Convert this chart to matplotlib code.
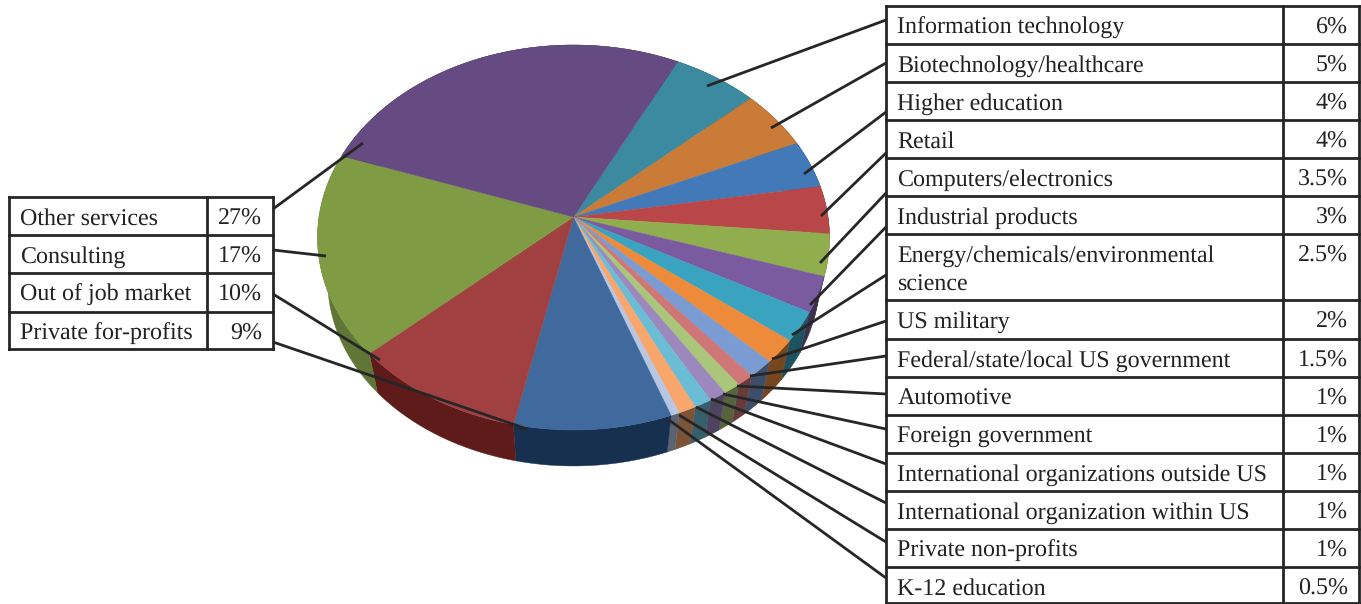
import numpy as np
import matplotlib
matplotlib.use("Agg")
import matplotlib.pyplot as plt
from matplotlib.colors import to_rgb

plt.rcParams['font.family'] = ['Liberation Serif', 'DejaVu Serif']
plt.rcParams['text.hinting'] = 'none'
plt.rcParams['text.hinting_factor'] = 1

# --- data -----------------------------------------------------------------
right_labels = ["Information technology", "Biotechnology/healthcare", "Higher education",
                "Retail", "Computers/electronics", "Industrial products",
                "Energy/chemicals/environmental\nscience", "US military",
                "Federal/state/local US government", "Automotive", "Foreign government",
                "International organizations outside US",
                "International organization within US", "Private non-profits",
                "K-12 education"]
right_values = [6, 5, 4, 4, 3.5, 3, 2.5, 2, 1.5, 1, 1, 1, 1, 1, 0.5]
left_labels = ["Other services", "Consulting", "Out of job market", "Private for-profits"]
left_values = [27, 17, 10, 9]

right_colors = ["#3c8a9f", "#c97b37", "#4279b8", "#b9474a", "#90ae4e", "#7b5ba0",
                "#3aa3bf", "#ee8b3b", "#7a9cd3", "#cf7676", "#a9c67b", "#9c88bd",
                "#6bbcd5", "#f8a66c", "#b6c6e3"]
left_colors = ["#664a82", "#7f9c45", "#a04040", "#40699d"]
right_wall_colors = [tuple(c * 0.5 for c in to_rgb(col)) for col in right_colors]
left_wall_colors = ["#33264a", "#5f7636", "#5e1b19", "#17304f"]

# --- layout (pixel canvas) ------------------------------------------------
W, H = 1361, 604
fig = plt.figure(figsize=(W / 100, H / 100), dpi=100)
ax = fig.add_axes([0, 0, 1, 1])
ax.set_xlim(0, W)
ax.set_ylim(H, 0)
ax.axis("off")

APEX_X, APEX_Y = 573.5, 217.0
A, B, C = 190.3, 0.1065, 254.5
START = 63.4
LINE = "#262626"
LW = 2.0
FS = 17.1


def top(theta):
    u, v = np.cos(np.radians(theta)), np.sin(np.radians(theta))
    w = 1 + B * v
    return C * u / w, A * v / w


def project(theta):
    x, y = top(theta)
    return APEX_X + x, APEX_Y - y


def project_low(theta):
    x, y = top(theta)
    return APEX_X + 0.96 * x, APEX_Y - (0.96 * y - 44.5)


values = right_values + left_values[::-1]
colors = right_colors + left_colors[::-1]
walls = right_wall_colors + left_wall_colors[::-1]
edges = START - 3.6 * np.concatenate([[0], np.cumsum(values)])

# walls first
for a0, a1, col in zip(edges[:-1], edges[1:], walls):
    th = np.linspace(a0, a1, 60)
    xt, yt = project(th)
    xb, yb = project_low(th)
    xs = np.r_[xt, xb[::-1]]
    ys = np.r_[yt, yb[::-1]]
    ax.fill(xs, ys, color=col, lw=0.3, zorder=1)

# top face
for a0, a1, col in zip(edges[:-1], edges[1:], colors):
    th = np.linspace(a0, a1, 60)
    xt, yt = project(th)
    ax.fill(np.r_[APEX_X, xt], np.r_[APEX_Y, yt], color=col, lw=0.3, zorder=2)


# --- tables ---------------------------------------------------------------
def pct(v):
    return f"{v:g}%"


def table(x0, x1, x2, ys, labels, vals, fs, top_pad=27.5):
    for y in ys:
        ax.plot([x0, x2], [y, y], color=LINE, lw=LW, zorder=5, solid_capstyle="projecting")
    for x in (x0, x1, x2):
        ax.plot([x, x], [ys[0], ys[-1]], color=LINE, lw=LW, zorder=5, solid_capstyle="projecting")
    for i, (lab, v) in enumerate(zip(labels, vals)):
        base = ys[i] + top_pad
        for k, part in enumerate(lab.split("\n")):
            ax.text(x0 + 11.5, base + 29 * k, part, fontsize=fs, va="baseline", ha="left",
                    color="#222222", zorder=6)
        ax.text(x2 - 11, base, pct(v), fontsize=fs, va="baseline", ha="right",
                color="#222222", zorder=6)


right_rows = [6, 44, 82, 120, 158, 196, 234, 300, 339, 377, 415, 453, 491, 529, 567, 603]
table(886, 1283, 1359, right_rows, right_labels, right_values, FS)
left_rows = [197, 235, 273, 312, 349]
table(9, 207, 273, left_rows, left_labels, left_values, FS)

# --- leader lines ---------------------------------------------------------
right_table_y = [20, 63, 112, 153, 193, 227, 275, 321, 356, 394, 429, 464, 503, 542, 578]
right_pie_xy = [(707, 86), (771, 128), (804, 174), (821, 216), (820, 263), (810, 305),
                (792, 335), (772, 359), (750, 376), (737, 386), (723, 394), (711, 399),
                (696, 407), (679, 415), (669, 420)]
for ty, (px, py) in zip(right_table_y, right_pie_xy):
    ax.plot([886, px], [ty, py], color=LINE, lw=LW, zorder=4, solid_capstyle="butt")

left_table_y = [209, 250, 294, 342]
left_pie_xy = [(363, 143), (326, 256), (380, 360), (527, 429)]
for ty, (px, py) in zip(left_table_y, left_pie_xy):
    ax.plot([273, px], [ty, py], color=LINE, lw=LW, zorder=4, solid_capstyle="butt")

fig.savefig("out.png", dpi=100, facecolor="white")
